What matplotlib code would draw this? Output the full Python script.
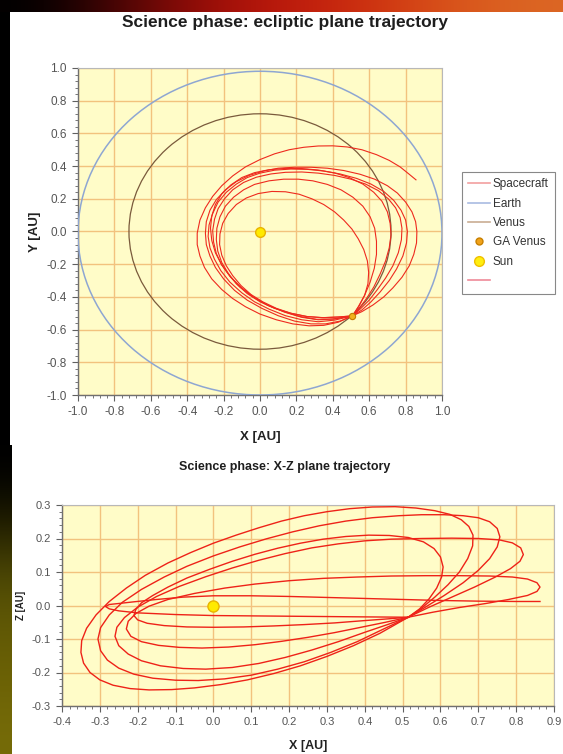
import numpy as np
import matplotlib
matplotlib.use("Agg")
import matplotlib.pyplot as plt
from matplotlib.patches import Rectangle, Ellipse
from matplotlib.lines import Line2D
from matplotlib.ticker import MultipleLocator, AutoMinorLocator, FormatStrFormatter

plt.rcParams['font.family'] = ['Liberation Sans', 'DejaVu Sans']

# ---------------- data ----------------
title_xy = "Science phase: ecliptic plane trajectory"
title_xz = "Science phase: X-Z plane trajectory"
legend_labels = ["Spacecraft", "Earth", "Venus", "GA Venus", "Sun", ""]

sun_pos = (0.0, 0.0)
ga_venus_xy = (0.508, -0.516)

# Earth / Venus orbits (centre x, centre y, radius x, radius y)
earth_orbit = (0.0, -0.01, 1.0, 0.99)
venus_orbit = (0.0, 0.0, 0.72, 0.72)

# spacecraft, ecliptic plane (X, Y) - loops
xy_loop0 = [(0.857, 0.316), (0.82, 0.35), (0.77, 0.395), (0.71, 0.435), (0.64, 0.47), (0.56, 0.50),
            (0.48, 0.517), (0.40, 0.524), (0.32, 0.523), (0.24, 0.515), (0.16, 0.50), (0.08, 0.475),
            (0.0, 0.44), (-0.08, 0.395), (-0.15, 0.34), (-0.21, 0.28), (-0.26, 0.215), (-0.30, 0.145),
            (-0.33, 0.07), (-0.345, -0.01), (-0.345, -0.08), (-0.33, -0.15), (-0.305, -0.22),
            (-0.265, -0.29), (-0.21, -0.355), (-0.15, -0.41), (-0.08, -0.46), (0.0, -0.505),
            (0.09, -0.54), (0.18, -0.565), (0.27, -0.577), (0.35, -0.574), (0.43, -0.555), (0.508, -0.516)]
xy_loop1 = [(0.508, -0.516), (0.56, -0.49), (0.62, -0.45), (0.68, -0.40), (0.73, -0.345), (0.78, -0.28),
            (0.82, -0.21), (0.845, -0.14), (0.86, -0.07), (0.862, 0.0), (0.855, 0.06), (0.835, 0.12),
            (0.80, 0.18), (0.755, 0.235), (0.70, 0.28), (0.63, 0.32), (0.55, 0.35), (0.46, 0.373),
            (0.37, 0.387), (0.28, 0.393), (0.19, 0.393), (0.10, 0.387), (0.02, 0.37), (-0.06, 0.343),
            (-0.13, 0.305), (-0.19, 0.255), (-0.24, 0.195), (-0.275, 0.13), (-0.295, 0.06), (-0.30, -0.01),
            (-0.295, -0.08), (-0.275, -0.15), (-0.245, -0.22), (-0.20, -0.29), (-0.14, -0.36),
            (-0.07, -0.42), (0.01, -0.47), (0.10, -0.515), (0.19, -0.548), (0.28, -0.565), (0.36, -0.565),
            (0.44, -0.548), (0.508, -0.516)]
xy_loop2 = [(0.508, -0.516), (0.56, -0.48), (0.61, -0.43), (0.66, -0.37), (0.71, -0.30), (0.75, -0.23),
            (0.785, -0.15), (0.805, -0.07), (0.81, 0.0), (0.80, 0.07), (0.775, 0.13), (0.735, 0.19),
            (0.68, 0.245), (0.61, 0.29), (0.53, 0.325), (0.44, 0.352), (0.35, 0.37), (0.26, 0.38),
            (0.17, 0.382), (0.08, 0.375), (0.0, 0.357), (-0.07, 0.33), (-0.13, 0.29), (-0.185, 0.24),
            (-0.23, 0.18), (-0.26, 0.11), (-0.28, 0.04), (-0.285, -0.03), (-0.275, -0.10), (-0.25, -0.17),
            (-0.215, -0.24), (-0.165, -0.31), (-0.10, -0.375), (-0.03, -0.43), (0.05, -0.475),
            (0.14, -0.515), (0.23, -0.54), (0.32, -0.552), (0.41, -0.542), (0.508, -0.516)]
xy_loop3 = [(0.508, -0.516), (0.55, -0.475), (0.60, -0.42), (0.645, -0.355), (0.69, -0.285), (0.73, -0.21),
            (0.76, -0.13), (0.777, -0.05), (0.78, 0.02), (0.77, 0.085), (0.745, 0.145), (0.705, 0.2),
            (0.65, 0.25), (0.58, 0.29), (0.50, 0.32), (0.41, 0.343), (0.32, 0.357), (0.23, 0.364),
            (0.14, 0.362), (0.06, 0.352), (-0.02, 0.332), (-0.09, 0.30), (-0.15, 0.255), (-0.195, 0.2),
            (-0.23, 0.14), (-0.25, 0.075), (-0.26, 0.005), (-0.255, -0.065), (-0.24, -0.135), (-0.21, -0.205),
            (-0.165, -0.275), (-0.11, -0.34), (-0.04, -0.40), (0.04, -0.45), (0.13, -0.49), (0.22, -0.52),
            (0.31, -0.537), (0.40, -0.535), (0.508, -0.516)]
xy_loop4 = [(0.508, -0.516), (0.545, -0.47), (0.585, -0.41), (0.625, -0.34), (0.66, -0.26), (0.69, -0.18),
            (0.71, -0.10), (0.72, -0.02), (0.715, 0.05), (0.70, 0.12), (0.67, 0.185), (0.625, 0.24),
            (0.565, 0.29), (0.49, 0.33), (0.41, 0.358), (0.32, 0.376), (0.23, 0.385), (0.14, 0.386),
            (0.05, 0.378), (-0.03, 0.36), (-0.10, 0.33), (-0.16, 0.285), (-0.21, 0.23), (-0.245, 0.165),
            (-0.265, 0.095), (-0.272, 0.02), (-0.265, -0.055), (-0.245, -0.13), (-0.21, -0.205),
            (-0.16, -0.28), (-0.10, -0.345), (-0.03, -0.405), (0.05, -0.455), (0.14, -0.495),
            (0.23, -0.525), (0.32, -0.54), (0.41, -0.535), (0.508, -0.516)]
xy_loop5 = [(0.508, -0.516), (0.54, -0.46), (0.575, -0.39), (0.605, -0.31), (0.628, -0.225), (0.64, -0.14),
            (0.64, -0.06), (0.63, 0.02), (0.605, 0.09), (0.565, 0.155), (0.51, 0.21), (0.445, 0.255),
            (0.37, 0.288), (0.29, 0.31), (0.21, 0.32), (0.13, 0.32), (0.05, 0.31), (-0.03, 0.288),
            (-0.09, 0.255), (-0.145, 0.21), (-0.19, 0.155), (-0.22, 0.09), (-0.237, 0.02), (-0.24, -0.05),
            (-0.232, -0.12), (-0.21, -0.19), (-0.175, -0.255), (-0.13, -0.32), (-0.07, -0.38), (0.0, -0.43),
            (0.08, -0.47), (0.17, -0.5), (0.26, -0.52), (0.35, -0.527), (0.43, -0.523), (0.508, -0.516)]
xy_loop6 = [(0.508, -0.516), (0.545, -0.455), (0.575, -0.39), (0.593, -0.32), (0.597, -0.25), (0.59, -0.18),
            (0.57, -0.11), (0.54, -0.045), (0.505, 0.015), (0.46, 0.07), (0.41, 0.12), (0.35, 0.165),
            (0.285, 0.2), (0.215, 0.228), (0.14, 0.243), (0.065, 0.245), (-0.01, 0.232), (-0.075, 0.205),
            (-0.13, 0.165), (-0.175, 0.11), (-0.205, 0.05), (-0.22, -0.015), (-0.222, -0.08), (-0.21, -0.145),
            (-0.185, -0.21), (-0.15, -0.27), (-0.105, -0.33), (-0.05, -0.385), (0.015, -0.43), (0.09, -0.47),
            (0.17, -0.5), (0.255, -0.52), (0.34, -0.527), (0.43, -0.523), (0.508, -0.516)]

# spacecraft, X-Z plane
xz_loop0 = [(0.863, 0.012), (0.80, 0.012), (0.70, 0.013), (0.60, 0.015), (0.50, 0.018), (0.40, 0.021),
            (0.30, 0.024), (0.20, 0.027), (0.10, 0.029), (0.0, 0.029), (-0.08, 0.025), (-0.15, 0.018),
            (-0.21, 0.011), (-0.25, 0.006), (-0.275, 0.003), (-0.285, -0.003), (-0.275, -0.01),
            (-0.25, -0.016), (-0.2, -0.022), (-0.1, -0.027), (0.0, -0.03), (0.1, -0.031), (0.2, -0.032),
            (0.3, -0.033), (0.4, -0.034), (0.515, -0.035)]
xz_loop1 = [(0.515, -0.035), (0.55, -0.008), (0.585, 0.025), (0.62, 0.062), (0.65, 0.1), (0.672, 0.14),
            (0.685, 0.178), (0.686, 0.21), (0.675, 0.236), (0.655, 0.256), (0.625, 0.272), (0.585, 0.283),
            (0.535, 0.291), (0.48, 0.295), (0.42, 0.294), (0.36, 0.289), (0.30, 0.28), (0.24, 0.268),
            (0.18, 0.252), (0.12, 0.232), (0.06, 0.21), (0.0, 0.186), (-0.06, 0.158), (-0.12, 0.127),
            (-0.18, 0.09), (-0.23, 0.052), (-0.275, 0.012), (-0.31, -0.028), (-0.335, -0.068),
            (-0.348, -0.105), (-0.35, -0.14), (-0.343, -0.172), (-0.326, -0.2), (-0.3, -0.222),
            (-0.265, -0.238), (-0.22, -0.248), (-0.17, -0.252), (-0.11, -0.251), (-0.05, -0.246),
            (0.02, -0.236), (0.09, -0.222), (0.16, -0.203), (0.23, -0.18), (0.30, -0.152), (0.37, -0.12),
            (0.44, -0.083), (0.515, -0.035)]
xz_loop2 = [(0.515, -0.035), (0.56, -0.005), (0.61, 0.03), (0.66, 0.068), (0.70, 0.105), (0.73, 0.14),
            (0.75, 0.175), (0.757, 0.205), (0.75, 0.23), (0.73, 0.25), (0.70, 0.262), (0.66, 0.268),
            (0.61, 0.271), (0.55, 0.271), (0.49, 0.268), (0.42, 0.262), (0.35, 0.252), (0.28, 0.238),
            (0.21, 0.22), (0.14, 0.199), (0.07, 0.175), (0.0, 0.148), (-0.07, 0.117), (-0.13, 0.085),
            (-0.19, 0.048), (-0.24, 0.01), (-0.275, -0.028), (-0.298, -0.066), (-0.305, -0.1),
            (-0.298, -0.135), (-0.28, -0.163), (-0.25, -0.187), (-0.21, -0.205), (-0.16, -0.217),
            (-0.1, -0.223), (-0.04, -0.224), (0.03, -0.219), (0.10, -0.208), (0.17, -0.19), (0.24, -0.168),
            (0.31, -0.14), (0.38, -0.108), (0.45, -0.07), (0.515, -0.035)]
xz_loop3 = [(0.515, -0.035), (0.57, -0.005), (0.63, 0.025), (0.69, 0.055), (0.745, 0.085), (0.785, 0.11),
            (0.81, 0.132), (0.819, 0.152), (0.812, 0.172), (0.79, 0.187), (0.755, 0.196), (0.70, 0.2),
            (0.63, 0.201), (0.55, 0.2), (0.47, 0.198), (0.40, 0.193), (0.33, 0.184), (0.26, 0.172),
            (0.19, 0.155), (0.12, 0.135), (0.05, 0.112), (-0.02, 0.086), (-0.09, 0.057), (-0.15, 0.027),
            (-0.2, -0.005), (-0.235, -0.036), (-0.255, -0.065), (-0.26, -0.092), (-0.25, -0.12),
            (-0.225, -0.145), (-0.19, -0.165), (-0.14, -0.18), (-0.08, -0.188), (-0.02, -0.19),
            (0.05, -0.185), (0.12, -0.173), (0.19, -0.155), (0.26, -0.133), (0.33, -0.108), (0.40, -0.08),
            (0.46, -0.057), (0.515, -0.035)]
xz_loop4 = [(0.515, -0.035), (0.58, -0.02), (0.65, -0.006), (0.72, 0.006), (0.78, 0.018), (0.83, 0.03),
            (0.855, 0.042), (0.863, 0.055), (0.855, 0.068), (0.83, 0.079), (0.79, 0.085), (0.73, 0.088),
            (0.65, 0.089), (0.56, 0.089), (0.47, 0.088), (0.38, 0.085), (0.29, 0.081), (0.2, 0.074),
            (0.11, 0.064), (0.03, 0.052), (-0.05, 0.036), (-0.12, 0.018), (-0.17, -0.002), (-0.205, -0.024),
            (-0.225, -0.047), (-0.23, -0.07), (-0.218, -0.092), (-0.19, -0.108), (-0.145, -0.119),
            (-0.09, -0.125), (-0.03, -0.127), (0.04, -0.124), (0.11, -0.117), (0.18, -0.107),
            (0.25, -0.095), (0.32, -0.081), (0.39, -0.065), (0.455, -0.05), (0.515, -0.035)]
xz_loop5 = [(0.515, -0.035), (0.545, -0.01), (0.57, 0.02), (0.59, 0.052), (0.603, 0.085), (0.607, 0.115),
            (0.6, 0.145), (0.583, 0.17), (0.555, 0.19), (0.515, 0.203), (0.465, 0.209), (0.41, 0.21),
            (0.35, 0.206), (0.29, 0.198), (0.23, 0.186), (0.17, 0.171), (0.11, 0.153), (0.05, 0.132),
            (-0.01, 0.108), (-0.07, 0.082), (-0.12, 0.055), (-0.16, 0.03), (-0.19, 0.008), (-0.205, -0.012),
            (-0.21, -0.03), (-0.2, -0.043), (-0.175, -0.053), (-0.13, -0.06), (-0.07, -0.064), (0.0, -0.065),
            (0.08, -0.064), (0.16, -0.061), (0.24, -0.057), (0.32, -0.052), (0.40, -0.045), (0.46, -0.04),
            (0.515, -0.035)]

xy_loops = [xy_loop0, xy_loop1, xy_loop2, xy_loop3, xy_loop4, xy_loop5, xy_loop6]
xz_loops = [xz_loop0, xz_loop1, xz_loop2, xz_loop3, xz_loop4, xz_loop5]

# ---------------- figure ----------------
W, H = 563, 754
fig = plt.figure(figsize=(W / 100, H / 100), dpi=100, facecolor='black')


def fr(x0, y0, x1, y1):
    """pixel box (top-left origin) -> figure fraction rect"""
    return [x0 / W, 1 - y1 / H, (x1 - x0) / W, (y1 - y0) / H]


# decorative slide background
bg = fig.add_axes([0, 0, 1, 1])
bg.set_xlim(0, W)
bg.set_ylim(H, 0)
bg.axis('off')
top_grad = np.array([[[0.0, 0.0, 0.0], [0.30, 0.02, 0.02], [0.60, 0.05, 0.03], [0.74, 0.10, 0.05],
                      [0.80, 0.18, 0.06], [0.85, 0.32, 0.10], [0.86, 0.40, 0.14]]])
bg.imshow(top_grad, extent=(0, W, 12, 0), aspect='auto', interpolation='bicubic')
side_grad = np.array([[[0.0, 0.0, 0.0]], [[0.12, 0.11, 0.0]], [[0.30, 0.28, 0.02]], [[0.38, 0.35, 0.02]],
                      [[0.42, 0.38, 0.02]], [[0.46, 0.42, 0.03]]])
bg.imshow(side_grad, extent=(0, 13, H, 445), aspect='auto', interpolation='bicubic')
bg.add_patch(Rectangle((10, 12), W - 10, 433, facecolor='white', edgecolor='none'))
bg.add_patch(Rectangle((12, 445), W - 12, H - 445, facecolor='white', edgecolor='none'))

plot_bg = '#fffcc8'
grid_col = '#f2c27e'
txt_col = '#555555'


def style_axes(ax, fs):
    ax.set_facecolor(plot_bg)
    ax.grid(True, which='major', color=grid_col, lw=1.0)
    ax.set_axisbelow(True)
    for s in ['top', 'right']:
        ax.spines[s].set_color('#b8b8b8')
        ax.spines[s].set_linewidth(0.8)
    for s in ['left', 'bottom']:
        ax.spines[s].set_color('#707070')
        ax.spines[s].set_linewidth(1.0)
    ax.tick_params(which='major', direction='out', length=4, width=0.8, color='#606060',
                   labelsize=fs, labelcolor=txt_col, top=False, right=False, pad=4)
    ax.tick_params(which='minor', direction='out', length=2, width=0.6, color='#606060',
                   top=False, right=False)


# ---------- top: ecliptic plane ----------
ax1 = fig.add_axes(fr(78, 68, 442, 395))
style_axes(ax1, 8.5)
ax1.set_xlim(-1.0, 1.0)
ax1.set_ylim(-1.0, 1.0)
ax1.xaxis.set_major_locator(MultipleLocator(0.2))
ax1.yaxis.set_major_locator(MultipleLocator(0.2))
ax1.xaxis.set_minor_locator(AutoMinorLocator(5))
ax1.yaxis.set_minor_locator(AutoMinorLocator(5))
ax1.xaxis.set_major_formatter(FormatStrFormatter('%.1f'))
ax1.yaxis.set_major_formatter(FormatStrFormatter('%.1f'))

ax1.add_patch(Ellipse((earth_orbit[0], earth_orbit[1]), 2 * earth_orbit[2], 2 * earth_orbit[3],
                      fill=False, edgecolor='#8ea6d2', lw=1.1, zorder=3))
ax1.add_patch(Ellipse((venus_orbit[0], venus_orbit[1]), 2 * venus_orbit[2], 2 * venus_orbit[3],
                      fill=False, edgecolor='#7a5a3c', lw=0.9, zorder=3))
for lp in xy_loops:
    xs, ys = zip(*lp)
    ax1.plot(xs, ys, color='#ee2a1e', lw=0.8, zorder=4)
ax1.plot([sun_pos[0]], [sun_pos[1]], 'o', ms=7, mfc='#ffea00', mec='#e8b400', mew=1, zorder=6)
ax1.plot([ga_venus_xy[0]], [ga_venus_xy[1]], 'o', ms=4.5, mfc='#f2b21c', mec='#c47a00', mew=0.8, zorder=6)

ax1.set_xlabel('X [AU]', fontsize=9.5, fontweight='bold', color='#222222', labelpad=9)
ax1.set_ylabel('Y [AU]', fontsize=9.5, fontweight='bold', color='#222222', labelpad=4)
fig.text(285 / W, 1 - 22 / H, title_xy, ha='center', va='center', fontsize=12.5,
         fontweight='bold', color='#1e1e1e')

handles = [Line2D([], [], color='#f2a0a0', lw=1.2),
           Line2D([], [], color='#a9bbe2', lw=1.2),
           Line2D([], [], color='#c9ad92', lw=1.2),
           Line2D([], [], ls='none', marker='o', ms=5, mfc='#f0a21a', mec='#c88000'),
           Line2D([], [], ls='none', marker='o', ms=7, mfc='#ffee10', mec='#f0c000'),
           Line2D([], [], color='#ef8a98', lw=1.2)]
leg = fig.legend(handles, legend_labels, loc='upper left', bbox_to_anchor=(462 / W, 1 - 172 / H),
                 fontsize=8.5, frameon=True, fancybox=False, edgecolor='#888888', framealpha=1,
                 handlelength=1.8, handletextpad=0.25, labelspacing=0.62, borderpad=0.55,
                 borderaxespad=0)
leg.get_frame().set_linewidth(0.8)
for t in leg.get_texts():
    t.set_color('#333333')

# ---------- bottom: X-Z plane ----------
ax2 = fig.add_axes(fr(62, 505, 554, 706))
style_axes(ax2, 8)
ax2.set_xlim(-0.4, 0.9)
ax2.set_ylim(-0.3, 0.3)
ax2.xaxis.set_major_locator(MultipleLocator(0.1))
ax2.yaxis.set_major_locator(MultipleLocator(0.1))
ax2.xaxis.set_minor_locator(AutoMinorLocator(5))
ax2.yaxis.set_minor_locator(AutoMinorLocator(5))
ax2.xaxis.set_major_formatter(FormatStrFormatter('%.1f'))
ax2.yaxis.set_major_formatter(FormatStrFormatter('%.1f'))
for lp in xz_loops:
    xs, zs = zip(*lp)
    ax2.plot(xs, zs, color='#ee2218', lw=1.0, zorder=4)
ax2.plot([sun_pos[0]], [sun_pos[1]], 'o', ms=8, mfc='#ffea00', mec='#e8b400', mew=1, zorder=6)
ax2.set_xlabel('X [AU]', fontsize=9, fontweight='bold', color='#222222', labelpad=9)
ax2.set_ylabel('Z [AU]', fontsize=7, fontweight='bold', color='#222222', labelpad=4)
fig.text(285 / W, 1 - 467 / H, title_xz, ha='center', va='center', fontsize=9,
         fontweight='bold', color='#1e1e1e')

fig.savefig('out.png', dpi=100, facecolor='black')
